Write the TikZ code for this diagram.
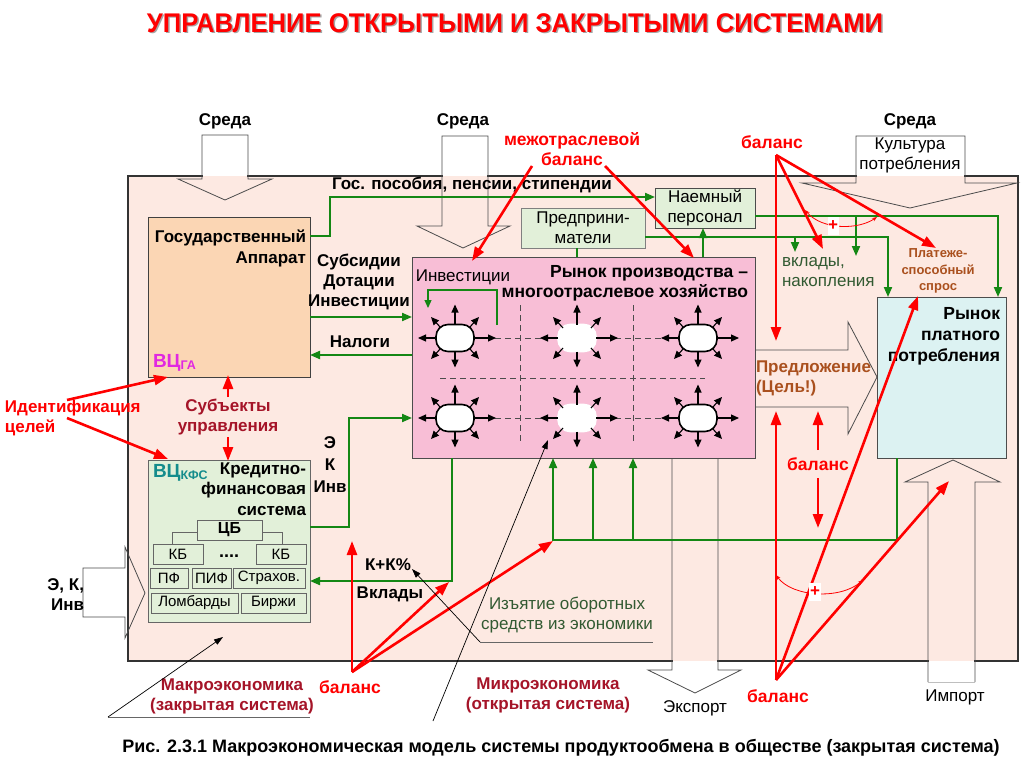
\documentclass[tikz,border=0pt]{standalone}
\usepackage{fontspec}
\setmainfont{Liberation Sans}
\newfontfamily\titlefont[FakeStretch=0.95]{Liberation Sans}
\usetikzlibrary{arrows.meta,calc}
\newcommand\fz[2]{\fontsize{#1}{#2}\selectfont}
\definecolor{outerpink}{RGB}{253,233,226}
\definecolor{mpink}{RGB}{248,190,214}
\definecolor{peach}{RGB}{251,214,180}
\definecolor{lgreen}{RGB}{226,240,217}
\definecolor{lcyan}{RGB}{220,242,242}
\definecolor{grn}{RGB}{20,135,20}
\definecolor{redc}{RGB}{255,0,0}
\definecolor{dred}{RGB}{165,20,40}
\definecolor{brownc}{RGB}{170,80,30}
\definecolor{magc}{RGB}{225,40,225}
\definecolor{tealc}{RGB}{20,140,140}
\definecolor{dgreen}{RGB}{50,90,50}
\begin{document}
\begin{tikzpicture}[x=1pt,y={(0pt,-1pt)},
  every node/.style={inner sep=0pt, outer sep=0pt},
  box/.style={draw=black!75, line width=0.9pt, anchor=north west},
  sbox/.style={draw=black!60, line width=0.8pt, fill=lgreen, minimum height=20pt, font=\fz{15}{15}},
  gl/.style={draw=grn, line width=2pt},
  ga/.style={gl, -{Triangle[length=10pt,width=8pt]}},
  ra/.style={draw=redc, line width=2.6pt, -{Triangle[length=14pt,width=10pt]}},
  ha/.style={draw=black, line width=1.1pt, -{Triangle[length=8pt,width=7pt]}},
  ta/.style={draw=black, line width=0.7pt, -{Triangle[length=9pt,width=6pt]}},
  blk/.style={draw=black!70, line width=0.8pt, line join=miter},
  hub/.style={rectangle, rounded corners=12pt, minimum width=38pt, minimum height=27pt, fill=white, line width=1.6pt},
  dsh/.style={draw=black!70, line width=0.9pt, dash pattern=on 6pt off 4pt},
  bl/.style={font=\fz{17}{20}\bfseries, align=center},
  rl/.style={font=\fz{17}{20}, align=center},
  redl/.style={font=\fz{17.5}{20}\bfseries, text=redc, align=center},
  dredl/.style={font=\fz{17}{20}\bfseries, text=dred, align=center}
]
\useasboundingbox (0,0) rectangle (1024,767);
\fill[white] (0,0) rectangle (1024,767);

% title
\node[font=\titlefont\fz{27}{30}\bfseries, text=black!35] at (516.5,24.5) {УПРАВЛЕНИЕ ОТКРЫТЫМИ И ЗАКРЫТЫМИ СИСТЕМАМИ};
\node[font=\titlefont\fz{27}{30}\bfseries, text=redc] (title) at (515,23) {УПРАВЛЕНИЕ ОТКРЫТЫМИ И ЗАКРЫТЫМИ СИСТЕМАМИ};

% outer system box
\node[box, fill=outerpink, draw=black!80, line width=1.1pt, minimum width=890pt, minimum height=485pt] (outer) at (128,176) {};

% ---- block arrows (environment, export, import, inputs) ----
% left Sreda
\fill[white] (202.6,170) rectangle (247.4,176);
\fill[outerpink] (202.6,176) rectangle (247.4,179.4);
\draw[blk] (202,135) -- (248,135) -- (248,179) -- (272,179) -- (225,200) -- (178,179) -- (202,179) -- cycle;
\node[bl] (sreda1) at (225,121) {Среда};
% middle Sreda
\fill[white] (442.6,170) rectangle (487.4,176);
\fill[outerpink] (442.6,176) rectangle (487.4,226);
\draw[blk] (442,136) -- (488,136) -- (488,226) -- (510,226) -- (463,248) -- (417,226) -- (442,226) -- cycle;
\node[bl] (sreda2) at (463,121) {Среда};
% right Sreda (culture of consumption)
\fill[white] (856.6,170) rectangle (964.4,176);
\fill[outerpink] (856.6,176) rectangle (964.4,183);
\draw[blk] (856,136) -- (965,136) -- (965,183) -- (1017,183) -- (910,208) -- (802,183) -- (856,183) -- cycle;
\node[bl] (sreda3) at (910,121) {Среда};
\node[rl] (kult) at (910,155) {Культура\\потребления};
% export
\fill[outerpink] (672.6,655) rectangle (717.4,661);
\fill[white] (672.6,661) rectangle (717.4,670);
\draw[blk] (672,458) -- (672,670) -- (648,670) -- (695,693) -- (741,670) -- (718,670) -- (718,458);
\node[rl] (export) at (695,708) {Экспорт};
% import
\fill[outerpink] (928.6,655) rectangle (974.4,661);
\fill[white] (928.6,661) rectangle (974.4,682);
\draw[blk] (928,682) -- (928,482) -- (905,482) -- (953,460) -- (1000,482) -- (975,482) -- (975,682);
\draw[black!25, line width=0.6pt] (928,682) -- (975,682);
\node[rl] (import) at (955,697) {Импорт};
% left inputs
\draw[blk] (83,568) -- (125,568) -- (125,547) -- (145,593) -- (125,638) -- (125,617) -- (83,617) -- cycle;
\node[bl, align=right, anchor=east] (eki) at (84,595) {Э, К,\\Инв};
% offer arrow
\draw[blk] (756,350) -- (848,350) -- (848,322) -- (877,377) -- (848,434) -- (848,407) -- (756,407);
\node[font=\fz{17}{20}\bfseries, text=brownc, align=left, anchor=west] (offer) at (756,378) {Предложение\\(Цель!)};

% ---- main boxes ----
\node[box, fill=peach, minimum width=162pt, minimum height=160pt] (gos) at (148,217) {};
\node[bl, align=right, anchor=east, font=\fz{17}{21}\bfseries] (gostxt) at (306,248) {Государственный\\Аппарат};
\node[anchor=west, text=magc] (vcga) at (153,363) {\fz{19}{20}\bfseries ВЦ\raisebox{-2pt}{\fz{12.5}{13}\bfseries ГА}};

\node[box, fill=lgreen, draw=black!60, minimum width=162pt, minimum height=162pt] (kfs) at (148,460) {};
\node[bl, align=right, anchor=east, font=\fz{17}{20.5}\bfseries] (kfstxt) at (306,489) {Кредитно-\\финансовая\\система};
\node[anchor=west, text=tealc] (vckfs) at (153,473) {\fz{19}{20}\bfseries ВЦ\raisebox{-2pt}{\fz{12.5}{13}\bfseries КФС}};
\node[sbox, minimum width=65pt, font=\fz{16}{15}\bfseries] (cb) at (229.5,530) {ЦБ};
\node[sbox, minimum width=50pt] (kb1) at (178,554) {КБ};
\node[sbox, minimum width=50pt] (kb2) at (281,554) {КБ};
\node[font=\fz{18}{18}\bfseries] (dots) at (229,556) {....};
\draw[black!60, line width=0.8pt] (cb.west |- 0,532) -| (kb1.north -| 172,0);
\draw[black!60, line width=0.8pt] (cb.east |- 0,532) -| (kb2.north -| 282,0);
\node[sbox, minimum width=38pt] (pf) at (169,578) {ПФ};
\node[sbox, minimum width=39pt] (pif) at (211.5,578) {ПИФ};
\node[sbox, minimum width=72pt] (strah) at (269,578) {Страхов.};
\node[sbox, minimum width=87pt] (lomb) at (194.5,603) {Ломбарды};
\node[sbox, minimum width=65pt] (birzh) at (273.5,603) {Биржи};

\node[box, fill=lgreen, draw=black!70, minimum width=100pt, minimum height=40pt] (naem) at (655,188) {};
\node[rl] (naemtxt) at (705,208) {Наемный\\персонал};
\node[box, fill=lgreen, draw=black!50, minimum width=124pt, minimum height=40pt] (pred) at (521,208) {};
\node[rl] (predtxt) at (583,228) {Предприни-\\матели};

\node[box, fill=lcyan, draw=black!70, minimum width=129pt, minimum height=161pt] (rynok) at (877,297) {};
\node[bl, align=right, anchor=east, font=\fz{17.5}{21}\bfseries] (rynoktxt) at (1000,336) {Рынок\\платного\\потребления};

% market of production
\node[box, fill=mpink, draw=black!70, minimum width=343pt, minimum height=201pt] (market) at (412,257) {};
\node[bl, align=right, anchor=east, font=\fz{17.5}{20}\bfseries] (mtitle) at (748,283) {Рынок производства –\\многоотраслевое хозяйство};
\node[rl] (invest) at (463,277) {Инвестиции};
\draw[grn, line width=1.3pt, -{Triangle[length=8pt,width=7pt]}] (497,325) |- (428,290) -- (428,308);

% dashed grid
\draw[dsh] (455,338) -- (698,338);
\draw[dsh] (455,418) -- (698,418);
\draw[dsh] (440,378) -- (705,378);
\draw[dsh] (520,305) -- (520,443);
\draw[dsh] (633,305) -- (633,443);

% hubs with arrows
\foreach \n/\x/\y/\b in {h1/455/338/black, h2/577/338/white, h3/698/338/black, h4/455/418/black, h5/577/418/white, h6/698/418/black}{
  \node[hub, draw=\b] (\n) at (\x,\y) {};
  \draw[ha] (\n.north) -- ++(0,-20);
  \draw[ha] (\n.south) -- ++(0,16);
  \draw[ha] (\n.west) -- ++(-18,0);
  \draw[ha] (\n.east) -- ++(22,0);
  \draw[ha] ($(\n)+(14,-10)$) -- ++(10,-11);
  \draw[ha] ($(\n)+(-14,-10)$) -- ++(-10,-11);
  \draw[ha] ($(\n)+(14,10)$) -- ++(10,11);
  \draw[ha] ($(\n)+(-14,10)$) -- ++(-10,11);
}

% ---- green flows ----
\draw[ga] (gos.east |- 0,236) -| (330,197) -- (naem.west |- 0,197);
\node[bl, anchor=west] (posob) at (332,185) {Гос. пособия, пенсии, стипендии};
\draw[ga] (gos.east |- 0,317) -- (market.west |- 0,317);
\node[bl] (subs) at (359,282) {Субсидии\\Дотации\\Инвестиции};
\draw[ga] (market.west |- 0,355) -- (gos.east |- 0,355);
\node[bl] (nalogi) at (360,342) {Налоги};
\draw[ga] (kfs.east |- 0,527) -| (349,418) -- (market.west |- 0,418);
\node[bl, font=\fz{17}{22}\bfseries] (ekinv) at (330,465) {Э\\К\\Инв};
\draw[ga] (market.south -| 452,0) |- (kfs.east |- 0,581);
\node[bl] (kk) at (388,565) {К+К\%};
\node[bl] (vklady) at (390,594) {Вклады};
\draw[gl] (553,540) -| (rynok.south -| 897,0);
\draw[ga] (553,541) -- (market.south -| 553,0);
\draw[ga] (593,540) -- (market.south -| 593,0);
\draw[ga] (633,540) -- (market.south -| 633,0);
\draw[gl] (pred.south -| 577,0) -- (market.north -| 577,0);
\draw[ga] (market.north -| 703,0) -- (naem.south -| 703,0);
\draw[ga] (naem.east |- 0,216) -| (rynok.north -| 998,0);
\draw[ga] (pred.east |- 0,237) -| (rynok.north -| 888,0);
\draw[ga] (795,237) -- (795,252);
\draw[ga] (856,216) -- (856,256);
\node[rl, text=dgreen, align=left, anchor=west] (nakop) at (782,272) {вклады,\\накопления};
\node[font=\fz{13}{16.5}\bfseries, text=brownc, align=center] (spros) at (938,271) {Платеже-\\способный\\спрос};

% ---- red balance arrows ----
\node[redl] (bal1) at (772,142) {баланс};
\coordinate (tb) at (776,155);
\draw[ra] (tb) -- (776,341);
\draw[ra] (tb) -- (823,249);
\draw[ra] (tb) -- (936,248);
\draw[redc, line width=0.8pt, {Stealth[length=5pt]}-{Stealth[length=5pt]}] (805,210) .. controls (822,230) and (858,230) .. (877,217);
\node[fill=white, minimum width=11pt, minimum height=18pt, text=redc, font=\fz{17}{17}\bfseries] (plus1) at (833,226) {+};

\node[redl] (bal2) at (818,464) {баланс};
\draw[ra] (818,450) -- (818,411);
\draw[ra] (818,478) -- (818,528);

\node[redl] (bal3) at (778,696) {баланс};
\coordinate (br) at (776,680);
\draw[ra] (br) -- (776,411);
\draw[ra] (br) -- (918,296);
\draw[ra] (br) -- (949,481);
\draw[redc, line width=0.8pt, {Stealth[length=5pt]}-{Stealth[length=5pt]}] (776,575) .. controls (792,597) and (840,600) .. (863,580);
\node[fill=white, minimum width=12pt, minimum height=18pt, text=redc, font=\fz{17}{17}\bfseries] (plus2) at (815,592) {+};

\node[redl] (bal4) at (350,687) {баланс};
\coordinate (bb) at (352,672);
\draw[ra] (bb) -- (352,541);
\draw[ra] (bb) -- (449,582);
\draw[ra] (bb) -- (553,541);

\node[redl] (mezh) at (572,149) {межотраслевой\\баланс};
\draw[ra] (532,166) -- (472,261);
\draw[ra] (605,166) -- (694,258);

\node[redl, font=\fz{17}{20}\bfseries, align=left, anchor=west] (ident) at (5,418) {Идентификация\\целей};
\draw[ra] (67,400) -- (168,377);
\draw[ra] (67,418) -- (168,459);

\node[dredl] (subj) at (228,417) {Субъекты\\управления};
\draw[ra] (228,397) -- (228,375);
\draw[ra] (228,437) -- (228,461);

% ---- thin pointer arrows and notes ----
\node[dredl] (makro) at (232,696) {Макроэкономика\\(закрытая система)};
\draw[black!60, line width=0.8pt] (108,717) -- (310,717);
\draw[ta] (108,717) -- (223,637);
\node[dredl] (mikro) at (548,695) {Микроэкономика\\(открытая система)};
\draw[ta] (433,721) -- (548,440);
\node[rl, text=dgreen] (izyat) at (567,615) {Изъятие оборотных\\средств из экономики};
\draw[black!60, line width=0.8pt] (480,642) -- (653,642);
\draw[ta] (480,642) -- (412,569);

% caption
\node[font=\fz{18}{20}\bfseries] (caption) at (561,748) {Рис. 2.3.1 Макроэкономическая модель системы продуктообмена в обществе (закрытая система)};
\end{tikzpicture}
\end{document}
